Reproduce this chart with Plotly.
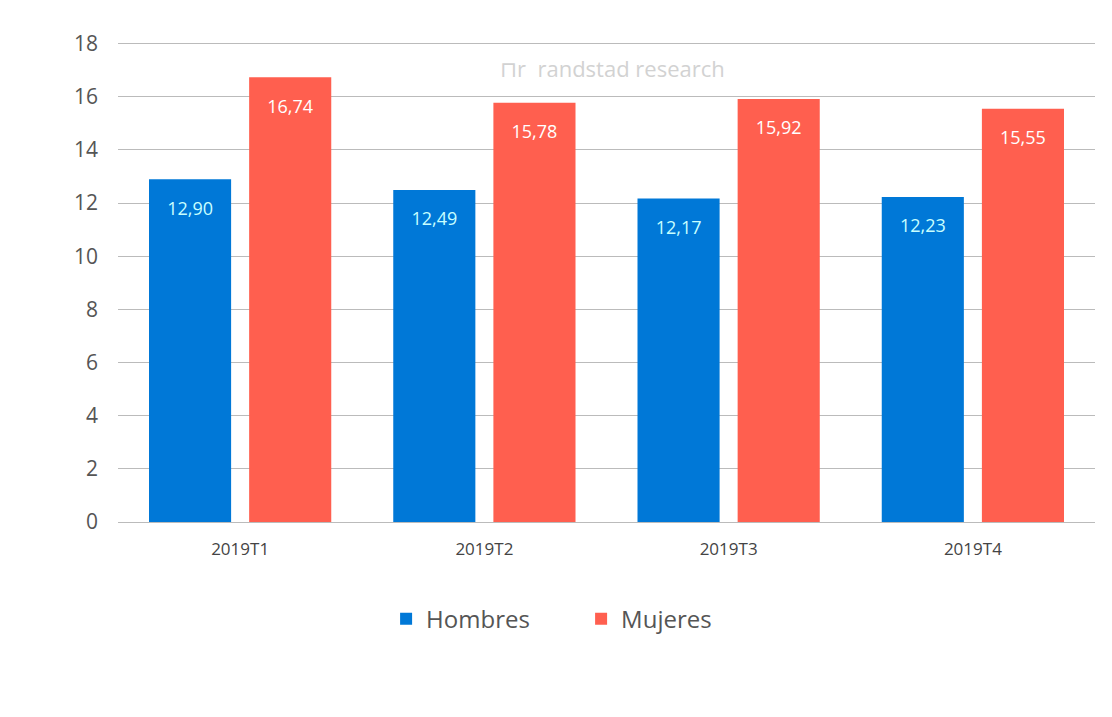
import plotly.graph_objects as go

categories = ["2019T1", "2019T2", "2019T3", "2019T4"]
hombres = [12.90, 12.49, 12.17, 12.23]
mujeres = [16.74, 15.78, 15.92, 15.55]
y_ticks = [0, 2, 4, 6, 8, 10, 12, 14, 16, 18]

def fmt(v):
    return "<span style='font-size:8px'>&nbsp;</span><br>" + f"{v:.2f}".replace(".", ",")

FONT = "Open Sans"

fig = go.Figure()
fig.add_trace(go.Bar(
    name="Hombres", x=categories, y=hombres,
    marker=dict(color="#0078D7", line=dict(width=0)),
    text=[fmt(v) for v in hombres], textposition="inside",
    insidetextanchor="end", textangle=0,
    textfont=dict(family=FONT, size=18, color="#C8FFFF"),
    hoverinfo="skip",
))
fig.add_trace(go.Bar(
    name="Mujeres", x=categories, y=mujeres,
    marker=dict(color="#FF5F4F", line=dict(width=0)),
    text=[fmt(v) for v in mujeres], textposition="inside",
    insidetextanchor="end", textangle=0,
    textfont=dict(family=FONT, size=18, color="#FFFFFF"),
    hoverinfo="skip",
))

fig.update_layout(
    width=1112, height=717,
    margin=dict(l=110, r=25, t=33, b=203),
    paper_bgcolor="white", plot_bgcolor="white",
    barmode="group", bargap=0.18, bargroupgap=0.18,
    uniformtext=dict(mode="show", minsize=18),
    font=dict(family=FONT, color="#555555"),
    xaxis=dict(showgrid=False, showline=False, ticks="",
               tickfont=dict(size=17, color="#444444"),
               ticklabelstandoff=15),
    yaxis=dict(range=[0, 18.1], tickvals=y_ticks, showgrid=True,
               gridcolor="#BBBBBB", gridwidth=1, zeroline=True,
               zerolinecolor="#BBBBBB", zerolinewidth=1,
               tickfont=dict(size=21, color="#555555"), ticks="",
               ticklabelstandoff=19),
    showlegend=True,
    legend=dict(orientation="h", x=0.474, xanchor="center", y=-0.155,
                yanchor="top", font=dict(size=24, color="#555555"),
                itemwidth=30, tracegroupgap=0, entrywidth=150),
    annotations=[dict(text="⊓r  randstad research", xref="paper", yref="paper",
                      x=0.506, y=0.9435, yanchor="middle", showarrow=False,
                      font=dict(family=FONT, size=22, color="#D2D2D2"))],
)

fig.write_html("out.html")
